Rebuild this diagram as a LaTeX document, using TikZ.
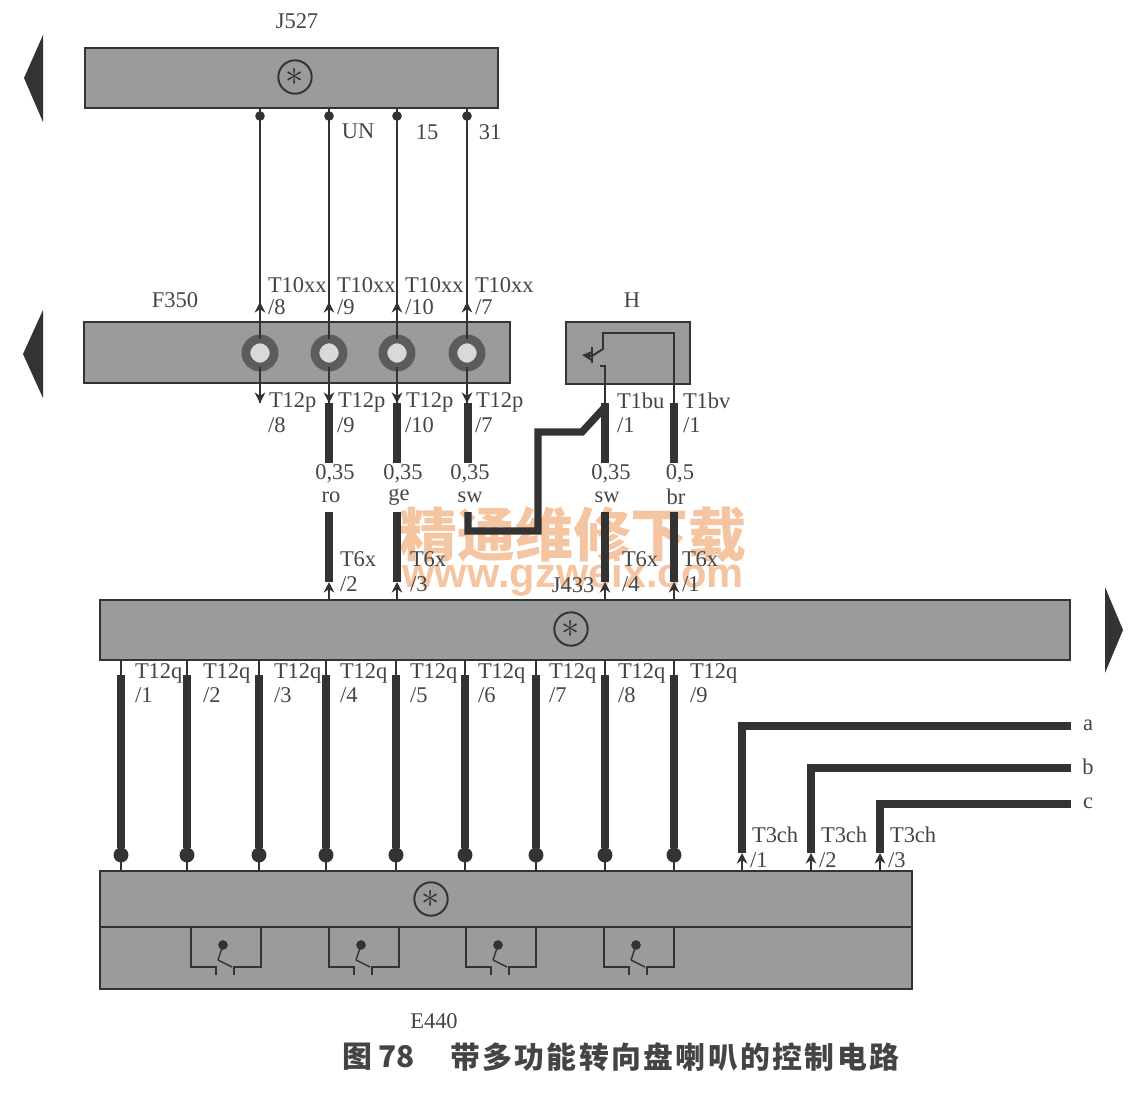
\documentclass[tikz,border=0pt]{standalone}
\usepackage{fontspec}
\setmainfont{Liberation Serif}
\newfontfamily\cjk{Noto Sans CJK SC}
\newfontfamily\capfont[LetterSpace=8]{Noto Sans CJK SC}
\newfontfamily\webfont{Liberation Sans}
\usetikzlibrary{arrows.meta}
\definecolor{boxgray}{HTML}{9B9B9B}
\definecolor{inkgray}{HTML}{333333}
\definecolor{textgray}{HTML}{444444}
\definecolor{markorange}{HTML}{F2B68A}
\begin{document}
\begin{tikzpicture}[x=0.02cm,y=-0.02cm]
\tikzset{ >={Stealth[length=6pt,width=6pt]}, inner sep=0pt, outer sep=0pt,
  modbox/.style={draw=inkgray, line width=1.1pt, fill=boxgray, rectangle},
  thinw/.style={draw=inkgray, line width=1.1pt},
  thickw/.style={draw=inkgray, line width=4.2pt, line join=miter},
  fine/.style={draw=inkgray, line width=0.8pt},
  lbl/.style={font=\fontsize{12.8}{14}\selectfont, text=textgray, anchor=west},
  lblc/.style={lbl, anchor=center},
  pindot/.style={circle, fill=inkgray, minimum size=5.5pt},
  bigdot/.style={circle, fill=inkgray, minimum size=8.5pt},
  bus/.style={circle, draw=inkgray, line width=1.1pt, minimum size=19pt,
    font=\fontsize{20}{20}\selectfont, text=inkgray},
  ring/.style={circle, draw=inkgray!80, line width=5pt, fill=black!15, minimum size=16pt},
}
\useasboundingbox (0,0) rectangle (1146,1096);

% modules
\node [modbox, minimum width=8.26cm, minimum height=1.2cm] (J527) at (291.5,78) {};
\node [modbox, minimum width=8.52cm, minimum height=1.22cm] (F350) at (297,352.5) {};
\node [modbox, minimum width=2.48cm, minimum height=1.24cm] (H) at (628,353) {};
\node [modbox, minimum width=19.4cm, minimum height=1.2cm] (J433) at (585,630) {};
\node [modbox, minimum width=16.24cm, minimum height=1.12cm] (E440a) at (506,899) {};
\node [modbox, minimum width=16.24cm, minimum height=1.24cm] (E440b) at (506,958) {};

\node [bus] (busA) at (295,77) {$\ast$};
\node [bus] (busB) at (571,629) {$\ast$};
\node [bus] (busC) at (431,899) {$\ast$};

% side arrows
\fill [inkgray] (24,78) -- (43,35) -- (43,122) -- cycle;
\fill [inkgray] (23,354) -- (43,310) -- (43,398) -- cycle;
\fill [inkgray] (1123,630) -- (1105,587) -- (1105,673) -- cycle;

% watermark
\node [text=markorange, opacity=0.8] (markA) at (573,535) {\fontsize{33}{36}\selectfont\cjk\bfseries 精通维修下载};
\node [text=markorange, opacity=0.8] (markB) at (573,577) {\fontsize{23.7}{26}\selectfont\webfont\bfseries www.gzweix.com};

% J527 to F350
\foreach \x/\i/\p in {260/1/8, 329/2/9, 397/3/10, 467/4/7} {
  \coordinate (Ja\i) at (\x,108);
  \coordinate (Fa\i) at (\x,322);
  \coordinate (Fu\i) at (\x,302);
  \coordinate (Fd\i) at (\x,383);
  \coordinate (Fe\i) at (\x,403);
  \node [ring] (Rg\i) at (\x,353) {};
  \node [pindot] (Jd\i) at (\x,116) {};
  \draw [thinw] (Ja\i) -- (Fa\i);
  \draw [thinw,->] (Fa\i) -- (Fu\i);
  \draw [thinw] (Fa\i) -- (Rg\i);
  \draw [thinw] (Rg\i) -- (Fe\i);
  \draw [thinw,->] (Fd\i) -- (Fe\i);
  \node [lbl] (Tx\i) at (\x+8,285) {T10xx};
  \node [lbl] (Px\i) at (\x+8,307) {/\p};
  \node [lbl] (Tp\i) at (\x+9,402) {T12p};
  \node [lbl] (Pp\i) at (\x+8,425) {/\p};
}

\node [lblc] (UN) at (358,131) {UN};
\node [lblc] (n15) at (427,132) {15};
\node [lblc] (n31) at (490,132) {31};
\node [lblc] (lF350) at (175,300) {F350};
\node [lblc] (lH) at (632,300) {H};
\node [lblc] (lJ527) at (297,21) {J527};
\node [lblc] (lJ433) at (573,585) {J433};
\node [lblc] (lE440) at (434,1021) {E440};

% F350/H to J433
\foreach \x/\i/\s/\c/\tx/\pin in {329/1/{0,35}/ro/340/2, 397/2/{0,35}/ge/410/3, 605/3/{0,35}/sw/622/4, 674/4/{0,5}/br/682/1} {
  \coordinate (Wa\i) at (\x,403);
  \coordinate (Wb\i) at (\x,463);
  \coordinate (Wc\i) at (\x,512);
  \coordinate (Wd\i) at (\x,582);
  \coordinate (We\i) at (\x,600);
  \draw [thickw] (Wa\i) -- (Wb\i);
  \draw [thickw] (Wc\i) -- (Wd\i);
  \draw [thinw,->] (We\i) -- (Wd\i);
  \node [lblc] (Sz\i) at (\x+6,474) {\s};
  \node [lblc] (Cl\i) at (\x+2,497) {\c};
  \node [lbl] (Tj\i) at (\tx,559) {T6x};
  \node [lbl] (Pj\i) at (\tx,584) {/\pin};
}

% sw wire with the jog
\coordinate (Wf) at (468,403);
\coordinate (Wg) at (468,463);
\coordinate (Wh) at (468,512);
\coordinate (Wi) at (538,531);
\coordinate (Wj) at (538,432);
\coordinate (Wk) at (582,432);
\coordinate (Wl) at (605,407);
\draw [thickw] (Wf) -- (Wg);
\draw [thickw] (Wh) |- (Wi) -- (Wj) -- (Wk) -- (Wl);
\node [lblc] (Sz5) at (470,474) {0,35};
\node [lblc] (Cl5) at (470,497) {sw};

% H, horn button
\coordinate (Ha) at (605,384);
\coordinate (Hb) at (605,366);
\coordinate (Hc) at (603,349);
\coordinate (Hd) at (603,333);
\coordinate (He) at (674,333);
\coordinate (Hf) at (674,384);
\coordinate (Hg) at (605,403);
\coordinate (Hh) at (674,403);
\coordinate (Hi) at (592,356);
\coordinate (Hj) at (582,355);
\draw [thinw] (Ha) -- (Hb) -- +(-5,0);
\draw [thinw] (Hi) -- (Hc) -- (Hd) -- (He) -- (Hf);
\draw [thinw,<-] (Hj) -- (Hi);
\draw [thinw] (592,347) -- (592,363);
\draw [thinw] (Hg) -- (Ha);
\draw [thinw] (Hh) -- (Hf);
\node [lbl] (T1u) at (617,401) {T1bu};
\node [lbl] (T1up) at (617,425) {/1};
\node [lbl] (T1v) at (683,401) {T1bv};
\node [lbl] (T1vp) at (683,425) {/1};

% J433 to E440
\foreach \x/\i/\tx in {121/1/135, 187/2/203, 259/3/274, 326/4/340, 396/5/410, 465/6/478, 536/7/549, 605/8/618, 674/9/690} {
  \coordinate (Qa\i) at (\x,660);
  \coordinate (Qb\i) at (\x,675);
  \node [bigdot] (Qd\i) at (\x,855) {};
  \coordinate (Qe\i) at (\x,871);
  \draw [thinw] (Qa\i) -- (Qb\i);
  \draw [thickw] (Qb\i) -- (Qd\i);
  \draw [thinw] (Qd\i) -- (Qe\i);
  \node [lbl] (Tq\i) at (\tx,673) {T12q};
  \node [lbl] (Pq\i) at (\tx,695) {/\i};
}

% a, b, c
\foreach \x/\y/\i/\n in {742/726/1/a, 811/768/2/b, 880/804/3/c} {
  \coordinate (Ca\i) at (\x,871);
  \coordinate (Cb\i) at (\x,853);
  \coordinate (Cc\i) at (\x,\y);
  \coordinate (Cd\i) at (1071,\y);
  \draw [thickw] (Cb\i) -- (Cc\i) -- (Cd\i);
  \draw [thinw,->] (Ca\i) -- (Cb\i);
  \node [lblc] (Ln\i) at (1088,\y-1) {\n};
  \node [lbl] (Tc\i) at (\x+10,835) {T3ch};
  \node [lbl] (Pc\i) at (\x+8,860) {/\i};
}

% switches in E440
\foreach \x/\i in {191/1, 329/2, 466/3, 604/4} {
  \draw [fine] (\x,927) -- (\x,967) -- (\x+25,967) -- (\x+25,975);
  \draw [fine] (\x+70,927) -- (\x+70,967) -- (\x+43,967) -- (\x+43,975);
  \draw [fine] (\x+27,960) -- (\x+41,967);
  \draw [fine] (\x+32,945) -- (\x+27,960);
  \node [pindot] (Sw\i) at (\x+32,945) {};
}

% caption
\node [anchor=west, text=textgray] (capA) at (342,1057) {\fontsize{17}{18}\selectfont\cjk\bfseries 图 78};
\node [anchor=west, text=textgray] (capB) at (450,1057) {\fontsize{17}{18}\selectfont\capfont\bfseries 带多功能转向盘喇叭的控制电路};

\end{tikzpicture}
\end{document}
